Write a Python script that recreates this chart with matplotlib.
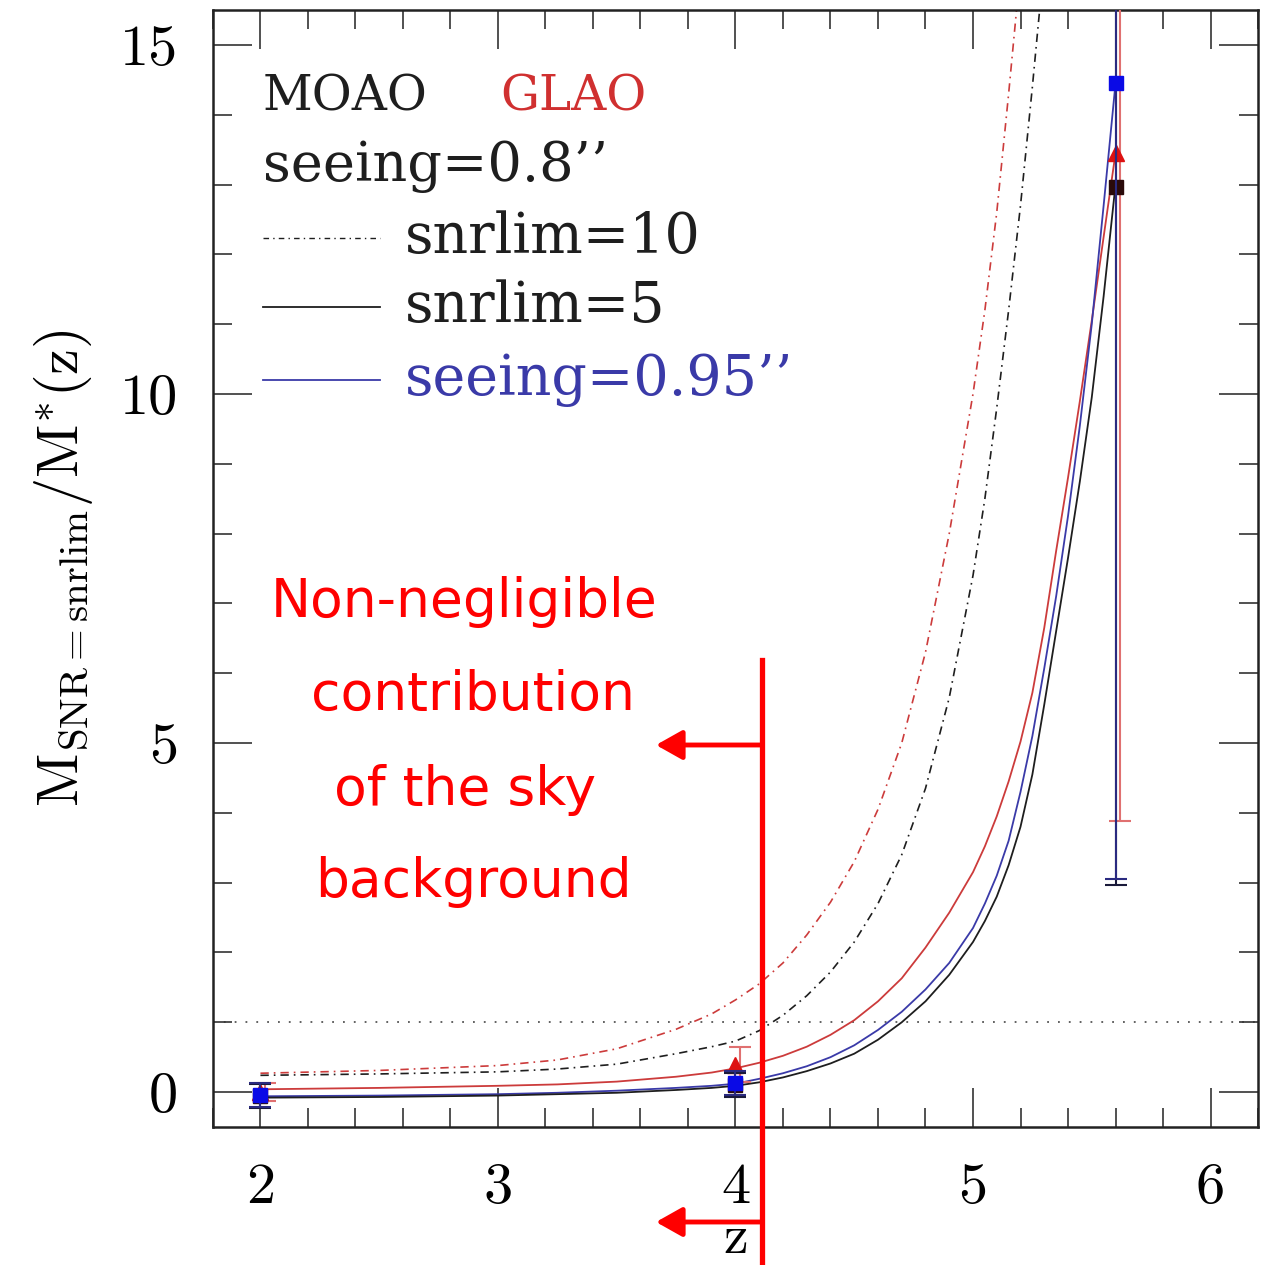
import numpy as np
import matplotlib
matplotlib.use("Agg")
import matplotlib.pyplot as plt

plt.rcParams['mathtext.fontset'] = 'cm'

# --- data ---
z_curve = [2.0, 2.5, 3.0, 3.25, 3.5, 3.75, 3.9, 4.0, 4.1, 4.2, 4.3, 4.4, 4.5, 4.6, 4.7,
           4.8, 4.9, 5.0, 5.05, 5.1, 5.15, 5.2, 5.25, 5.3, 5.35, 5.4, 5.45, 5.5, 5.55, 5.6]
nan = np.nan
glao_snr10 = [0.27, 0.31, 0.38, 0.46, 0.62, 0.90, 1.12, 1.32, 1.55, 1.85, 2.25, 2.72, 3.30,
              4.05, 5.00, 6.30, 8.00, 10.0, 11.2, 12.6, 14.3, 16.1,
              nan, nan, nan, nan, nan, nan, nan, nan]
moao_snr10 = [0.24, 0.26, 0.29, 0.33, 0.40, 0.55, 0.65, 0.73, 0.88, 1.10, 1.38, 1.72, 2.15,
              2.70, 3.40, 4.35, 5.65, 7.40, 8.50, 9.80, 11.2, 12.7, 14.4, 16.2,
              nan, nan, nan, nan, nan, nan]
glao_snr5 = [0.04, 0.06, 0.09, 0.11, 0.15, 0.22, 0.28, 0.34, 0.42, 0.52, 0.65, 0.82, 1.03,
             1.30, 1.63, 2.07, 2.57, 3.15, 3.52, 3.95, 4.45, 5.02, 5.72, 6.65, 7.75, 8.80,
             9.90, 11.05, 12.25, 13.45]
moao095_snr5 = [-0.06, -0.05, -0.03, -0.01, 0.02, 0.06, 0.09, 0.12, 0.19, 0.27, 0.37, 0.50,
                0.67, 0.89, 1.15, 1.47, 1.85, 2.35, 2.70, 3.10, 3.60, 4.30, 5.10, 6.07, 7.10,
                8.25, 9.55, 11.0, 12.7, 14.45]
moao_snr5 = [-0.08, -0.07, -0.05, -0.03, -0.01, 0.03, 0.06, 0.09, 0.14, 0.21, 0.30, 0.41,
             0.55, 0.75, 1.00, 1.30, 1.68, 2.15, 2.45, 2.80, 3.25, 3.80, 4.55, 5.55, 6.60,
             7.65, 8.75, 9.95, 11.4, 13.0]

z_pts = [2.0, 4.0, 5.6]
moao_pts = [-0.06, 0.10, 12.97]
moao_err = [0.17, 0.17, 10.0]
moao095_pts = [-0.04, 0.13, 14.45]
moao095_err = [0.17, 0.17, 11.4]
glao_pts = [0.0, 0.39, 13.45]
glao_err = [0.13, 0.25, 9.56]

x_ticks = [2, 3, 4, 5, 6]
x_ticklabels = ['2', '3', '4', '5', '6']
y_ticks = [0, 5, 10, 15]
y_ticklabels = ['0', '5', '10', '15']

note_lines = ['Non-negligible', 'contribution', 'of the sky', 'background']

BLACK = '#1e1e1e'
RED = '#cc3b3b'
BLUE = '#3a3aa8'
DASHDOT = (0, (5, 3, 1, 3))
SERIF = 'cmr10'
LEG = 'DejaVu Serif'

fig = plt.figure(figsize=(12.66, 12.65), dpi=100)
ax = fig.add_axes([0.1682, 0.1091, 0.8255, 0.8830])

# reference line at 1
ax.axhline(1.0, color='#555555', lw=1.3, ls=(0, (1, 5)), zorder=1)

# model curves
ax.plot(z_curve, glao_snr10, color=RED, lw=1.2, ls=DASHDOT, zorder=2)
ax.plot(z_curve, moao_snr10, color=BLACK, lw=1.2, ls=DASHDOT, zorder=2)
ax.plot(z_curve, glao_snr5, color=RED, lw=1.3, zorder=2)
ax.plot(z_curve, moao095_snr5, color=BLUE, lw=1.3, zorder=2)
ax.plot(z_curve, moao_snr5, color=BLACK, lw=1.3, zorder=2)

# measured points with error bars
zg = np.array(z_pts) + 0.02
ax.errorbar(zg, glao_pts, yerr=glao_err, fmt='none', ecolor='#e07070',
            elinewidth=1.5, capsize=8, capthick=1.5, zorder=3)
ax.plot(z_pts, glao_pts, ls='none', marker='^', ms=12, color='#dd1111', zorder=4)
ax.errorbar(z_pts, moao_pts, yerr=moao_err, fmt='s', ms=10, color='#2a0a0a',
            ecolor='#1a1a3a', elinewidth=1.5, capsize=8, capthick=1.5, zorder=5)
ax.errorbar(z_pts, moao095_pts, yerr=moao095_err, fmt='s', ms=10, color='#0a0ae6',
            ecolor='#2a2a80', elinewidth=1.5, capsize=8, capthick=1.5, zorder=6)

ax.set_xlim(1.8, 6.2)
ax.set_ylim(-0.5, 15.5)
ax.set_xticks(x_ticks)
ax.set_xticklabels(x_ticklabels, family=SERIF, fontsize=42)
ax.set_yticks(y_ticks)
ax.set_yticklabels(y_ticklabels, family=SERIF, fontsize=42)
ax.set_xticks(np.arange(1.8, 6.21, 0.2), minor=True)
ax.set_yticks(np.arange(0, 15.6, 1.0), minor=True)
ax.tick_params(which='both', direction='in', top=True, right=True,
               color='#333333', width=1.2)
ax.tick_params(which='major', length=28)
ax.tick_params(which='minor', length=14)
ax.tick_params(axis='x', which='major', pad=26)
ax.tick_params(axis='y', which='major', pad=25)
for s in ax.spines.values():
    s.set_linewidth(1.8)
    s.set_color('#222222')

ax.set_xlabel('z', family=SERIF, fontsize=40, labelpad=0)
ax.set_ylabel(r'$\mathrm{M_{SNR=snrlim}/M^{*}(z)}$', fontsize=42, labelpad=18)

# legend drawn by hand
ax.text(0.048, 0.922, 'MOAO', transform=ax.transAxes, family=LEG,
        fontsize=35, color=BLACK, va='center')
ax.text(0.275, 0.922, 'GLAO', transform=ax.transAxes, family=LEG,
        fontsize=35, color='#d03030', va='center')
ax.text(0.048, 0.860, "seeing=0.8\u2019\u2019", transform=ax.transAxes, family=LEG,
        fontsize=39, color=BLACK, va='center')
ax.plot([0.048, 0.160], [0.796, 0.796], transform=ax.transAxes, color=BLACK,
        lw=1.0, ls=(0, (4, 3, 1, 3)))
ax.text(0.184, 0.796, 'snrlim=10', transform=ax.transAxes, family=LEG,
        fontsize=40, color=BLACK, va='center')
ax.plot([0.048, 0.160], [0.734, 0.734], transform=ax.transAxes, color=BLACK, lw=1.3)
ax.text(0.184, 0.734, 'snrlim=5', transform=ax.transAxes, family=LEG,
        fontsize=40, color=BLACK, va='center')
ax.plot([0.048, 0.160], [0.669, 0.669], transform=ax.transAxes, color=BLUE, lw=1.3)
ax.text(0.184, 0.669, "seeing=0.95\u2019\u2019", transform=ax.transAxes, family=LEG,
        fontsize=40, color=BLUE, va='center')

# red annotation
note_x = [464, 473, 465, 473]
note_y = [602, 695, 790, 882]
for txt, px, py in zip(note_lines, note_x, note_y):
    fig.text(px / 1266, 1 - py / 1265, txt, color='red', fontsize=38.5,
             family='DejaVu Sans', ha='center', va='center')

xv = 762 / 1266
fig.add_artist(plt.Line2D([xv, xv], [1 - 660 / 1265, 0], color='red', lw=3.8))
for py in (745, 1222):
    yv = 1 - py / 1265
    ax.annotate('', xy=(656 / 1266, yv), xytext=(xv, yv), xycoords='figure fraction',
                textcoords='figure fraction', annotation_clip=False,
                arrowprops=dict(arrowstyle='-|>,head_length=0.8,head_width=0.45',
                                color='red', lw=3.5, shrinkA=0, shrinkB=0,
                                mutation_scale=20))

fig.savefig('out.png', dpi=100)
